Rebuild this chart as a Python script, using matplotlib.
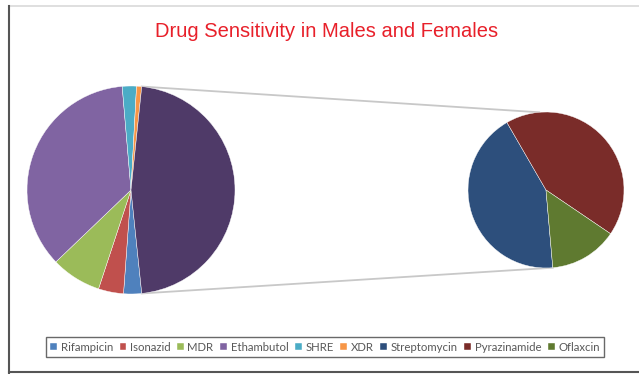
import numpy as np
import matplotlib
matplotlib.use('Agg')
import matplotlib.pyplot as plt
from matplotlib.lines import Line2D

# left pie (main) values, in percent of all samples
main_labels = ['Rifampicin', 'Isonazid', 'MDR', 'Ethambutol', 'SHRE', 'XDR']
main_values = [2.8, 3.9, 7.8, 35.8, 2.2, 0.8]
main_colors = ['#4F81BD', '#C0504D', '#9BBB59', '#8064A2', '#4BACC6', '#F79646']
other_color = '#4F3A68'

# right pie (breakdown of "other")
sub_labels = ['Streptomycin', 'Pyrazinamide', 'Oflaxcin']
sub_values = [20.1, 20.0, 6.6]
sub_colors = ['#2D4F7C', '#7A2C29', '#5F7A30']

W, H = 639, 374
fig = plt.figure(figsize=(W / 100, H / 100), dpi=100)
ax = fig.add_axes([0, 0, 1, 1])

other = sum(sub_values)
total = sum(main_values) + other
other_deg = other / total * 360
start_main = -other_deg / 2

c1, r1 = (131, 184), 104
c2, r2 = (546, 184), 78
start_sub = -85

w1, _ = ax.pie(main_values + [other], colors=main_colors + [other_color],
               startangle=start_main, counterclock=False, center=c1, radius=r1,
               wedgeprops=dict(edgecolor='white', linewidth=0.3), frame=True)
w2, _ = ax.pie(sub_values, colors=sub_colors, startangle=start_sub,
               counterclock=False, center=c2, radius=r2,
               wedgeprops=dict(edgecolor='white', linewidth=0.3), frame=True)

# connector lines
def pt(c, r, a):
    return c[0] + r * np.cos(np.radians(a)), c[1] + r * np.sin(np.radians(a))

top1 = pt(c1, r1, start_main + other_deg)
bot1 = pt(c1, r1, start_main)
top2 = pt(c2, r2, start_sub + 180)
bot2 = pt(c2, r2, start_sub)
ax.plot([top1[0], top2[0]], [top1[1], top2[1]], color='#c8c8c8', lw=1.3, zorder=0)
ax.plot([bot1[0], bot2[0]], [bot1[1], bot2[1]], color='#c8c8c8', lw=1.3, zorder=0)

ax.set_xlim(0, W)
ax.set_ylim(0, H)
ax.set_aspect('equal')
ax.axis('off')

# chart frame
ax.add_line(Line2D([9, W], [H - 6, H - 6], color='#d9d9d9', lw=1.2))
ax.add_line(Line2D([9, 9], [0, H - 6], color='#555555', lw=1.5))
ax.add_line(Line2D([9, W], [2, 2], color='#555555', lw=1.5))

ax.text(327, H - 31, 'Drug Sensitivity in Males and Females', color='#E8202A',
        fontsize=14.5, family='Liberation Sans', ha='center', va='center')

handles = list(w1[:6]) + list(w2)
labels = main_labels + sub_labels
leg = fig.legend(handles, labels, ncol=9, loc='lower left',
                 bbox_to_anchor=(40 / W, (H - 363) / H, 570 / W, 23 / H),
                 mode='expand', handlelength=0.6, handleheight=0.6,
                 handletextpad=0.3, columnspacing=0.3, borderpad=0.4,
                 fancybox=False, edgecolor='#444444', labelcolor='#595959',
                 prop={'family': 'Lato', 'size': 8.2})
leg.get_frame().set_linewidth(1.0)

plt.savefig('out.png', dpi=100)
